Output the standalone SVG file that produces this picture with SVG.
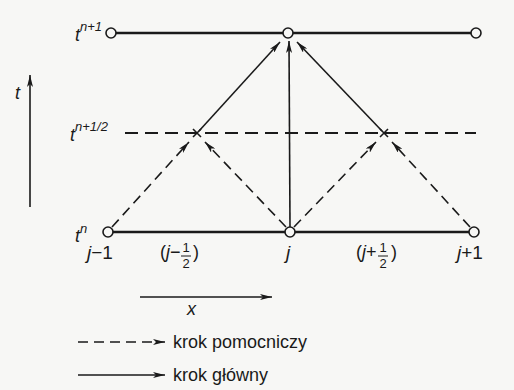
<svg xmlns="http://www.w3.org/2000/svg" width="514" height="390" viewBox="0 0 514 390">
<defs>
<style>
text{font-family:"Liberation Sans",Arial,sans-serif;fill:#1a1a1a}
.it{font-style:italic}
.lbl{font-size:18px}
.big{font-size:19px}
.sup{font-size:13px}
.frac{font-size:13px}
.leg{font-size:18px}
.solid{stroke:#1a1a1a;stroke-width:1.6;fill:none}
.thick{stroke:#1a1a1a;stroke-width:2.6;fill:none}
.dash{stroke:#1a1a1a;stroke-width:1.6;fill:none;stroke-dasharray:10 6}
.hdash{stroke:#1a1a1a;stroke-width:2;fill:none;stroke-dasharray:13 7}
.node{fill:#f7f7f5;stroke:#1a1a1a;stroke-width:1.6}
</style>
<marker id="ah" viewBox="0 0 12 6" refX="12" refY="3" markerWidth="12" markerHeight="6" markerUnits="userSpaceOnUse" orient="auto">
<path d="M0,0 L12,3 L0,6 L3,3 z" fill="#1a1a1a"/>
</marker>
</defs>
<rect width="514" height="390" fill="#f7f7f5"/>

<g id="axes">
<line class="solid" x1="30" y1="207" x2="30" y2="75" marker-end="url(#ah)"/>
<text class="lbl it" x="15" y="99">t</text>
<line class="solid" x1="140" y1="297" x2="272" y2="297" marker-end="url(#ah)"/>
<text class="lbl it" x="187" y="315">x</text>
</g>

<g id="levels">
<line class="thick" x1="116" y1="33" x2="471" y2="33"/>
<line class="thick" x1="113" y1="232" x2="469" y2="232"/>
<line class="hdash" x1="125" y1="133" x2="476" y2="133"/>
</g>

<g id="connectors">
<line class="dash" x1="112" y1="227" x2="189" y2="142" marker-end="url(#ah)"/>
<line class="dash" x1="286" y1="227" x2="205" y2="142" marker-end="url(#ah)"/>
<line class="dash" x1="294" y1="227" x2="376" y2="142" marker-end="url(#ah)"/>
<line class="dash" x1="470" y1="227" x2="392" y2="142" marker-end="url(#ah)"/>
<line class="solid" x1="199" y1="131" x2="280" y2="42" marker-end="url(#ah)"/>
<line class="solid" x1="290" y1="227" x2="289" y2="41" marker-end="url(#ah)"/>
<line class="solid" x1="382" y1="131" x2="297" y2="42" marker-end="url(#ah)"/>
</g>

<g id="n-top-left"><circle class="node" cx="111" cy="33" r="5"/></g>
<g id="n-top-mid"><circle class="node" cx="288" cy="33" r="5"/></g>
<g id="n-top-right"><circle class="node" cx="476" cy="33" r="5"/></g>
<g id="n-bot-left"><circle class="node" cx="108" cy="232" r="5"/></g>
<g id="n-bot-mid"><circle class="node" cx="290" cy="232" r="5"/></g>
<g id="n-bot-right"><circle class="node" cx="474" cy="232" r="5"/></g>
<g id="n-half-left"><path class="solid" d="M193,129 L201,137 M201,129 L193,137" stroke-width="1.3"/></g>
<g id="n-half-right"><path class="solid" d="M380,129 L388,137 M388,129 L380,137" stroke-width="1.3"/></g>

<g id="labels">
<text class="lbl it" x="75" y="41">t<tspan class="sup" dy="-10">n+1</tspan></text>
<text class="lbl it" x="70" y="141">t<tspan class="sup" dy="-10">n+1/2</tspan></text>
<text class="lbl it" x="75" y="242">t<tspan class="sup" dy="-9">n</tspan></text>
<text class="big" x="87" y="259"><tspan class="it">j</tspan>−1</text>
<text class="lbl" x="160" y="258">(<tspan class="it">j</tspan>−</text>
<text class="frac" x="186" y="252" text-anchor="middle">1</text>
<line x1="181" y1="256" x2="191" y2="256" stroke="#1a1a1a" stroke-width="1"/>
<text class="frac" x="186" y="268" text-anchor="middle">2</text>
<text class="lbl" x="193" y="258">)</text>
<text class="big it" x="286" y="259">j</text>
<text class="lbl" x="356" y="258">(<tspan class="it">j</tspan>+</text>
<text class="frac" x="383" y="252" text-anchor="middle">1</text>
<line x1="378" y1="256" x2="388" y2="256" stroke="#1a1a1a" stroke-width="1"/>
<text class="frac" x="383" y="268" text-anchor="middle">2</text>
<text class="lbl" x="391" y="258">)</text>
<text class="big" x="457" y="259"><tspan class="it">j</tspan>+1</text>
</g>

<g id="legend">
<line class="dash" x1="78" y1="342" x2="165" y2="342" stroke-dasharray="11 6" marker-end="url(#ah)"/>
<text class="leg" x="173" y="348">krok pomocniczy</text>
<line class="solid" x1="78" y1="375" x2="165" y2="375" marker-end="url(#ah)"/>
<text class="leg" x="173" y="381">krok główny</text>
</g>
</svg>
